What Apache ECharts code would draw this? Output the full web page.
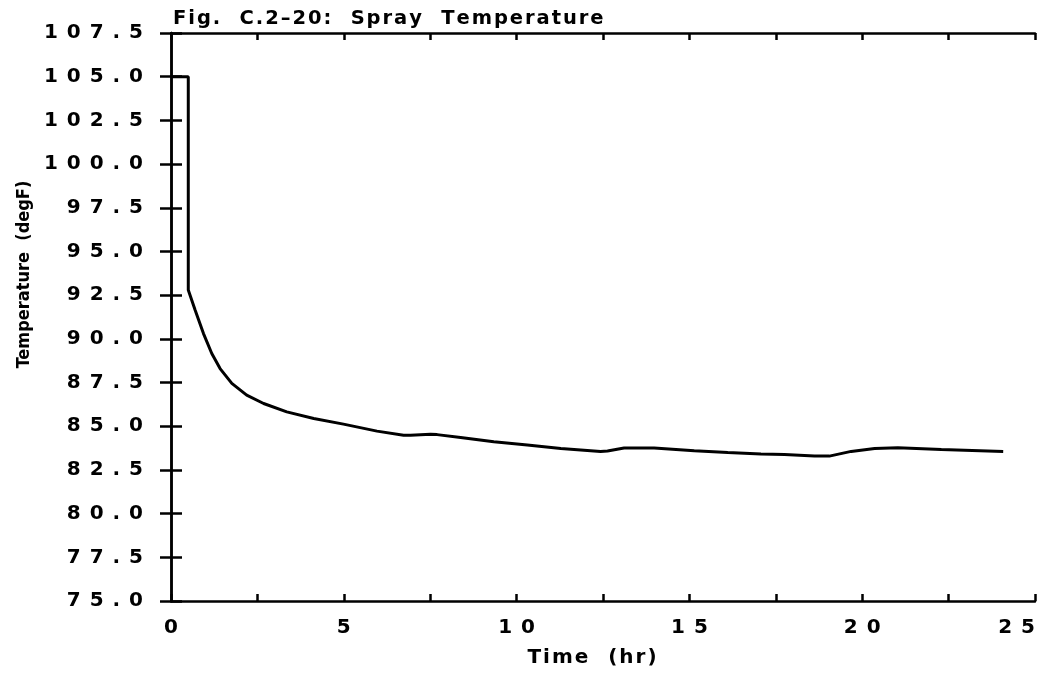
<!DOCTYPE html>
<html>
<head>
<meta charset="utf-8">
<script src="https://cdn.jsdelivr.net/npm/echarts@6/dist/echarts.min.js"></script>
<style>html,body{margin:0;padding:0;background:#fff}#c{width:1049px;height:685px}</style>
</head>
<body>
<div id="c"></div>
<script>
// Data
var titleText = 'Fig.  C.2\u201320:  Spray  Temperature';
var xName = 'Time  (hr)';
var yName = 'Temperature  (degF)';
var timeHr = [0, 0.5, 0.5, 0.7, 0.94, 1.18, 1.42, 1.76, 2.19, 2.68, 3.35, 4.13, 4.99, 5.96, 6.73, 6.93, 7.51, 7.7, 8.38, 9.34, 10.31, 11.28, 12.43, 12.63, 13.11, 13.98, 15.14, 16.11, 17.07, 17.75, 18.62, 19.05, 19.68, 20.36, 21.03, 22.29, 24.08];
var tempF = [105, 105, 92.8, 91.64, 90.3, 89.16, 88.3, 87.45, 86.78, 86.3, 85.82, 85.44, 85.12, 84.72, 84.49, 84.49, 84.54, 84.52, 84.36, 84.11, 83.92, 83.73, 83.56, 83.58, 83.75, 83.75, 83.6, 83.5, 83.41, 83.38, 83.29, 83.29, 83.56, 83.73, 83.77, 83.67, 83.56];
var xTicks = [0, 5, 10, 15, 20, 25];
var yTicks = [75.0, 77.5, 80.0, 82.5, 85.0, 87.5, 90.0, 92.5, 95.0, 97.5, 100.0, 102.5, 105.0, 107.5];

var points = timeHr.map(function (t, i) { return [t, tempF[i]]; });
function spaced(s) { return s.split('').join(' \u200A'); }
function airy(s) { return s.split('').join('\u200A'); }
var FONT = 'DejaVu Sans';
var chart = echarts.init(document.getElementById('c'), null, {renderer: 'canvas'});
var axisLine = {show: true, lineStyle: {color: '#000', width: 2.5}};
chart.setOption({
  animation: false,
  backgroundColor: '#fff',
  title: {
    text: airy(titleText), left: 168, top: 4,
    textStyle: {fontFamily: FONT, fontSize: 19.5, fontWeight: 'bold', color: '#000'}
  },
  grid: {left: 171, right: 14, top: 33, bottom: 84, containLabel: false},
  xAxis: [{
    type: 'value', position: 'bottom', min: 0, max: 25, interval: 2.5,
    name: airy(xName), nameLocation: 'middle', nameGap: 47,
    nameTextStyle: {fontFamily: FONT, fontSize: 20, fontWeight: 'bold', color: '#000', padding: [0, 22, 0, 0]},
    axisLine: axisLine,
    axisTick: {show: true, inside: true, length: 7, lineStyle: {color: '#000', width: 2.5}},
    axisLabel: {
      margin: 17, fontFamily: FONT, fontSize: 20, fontWeight: 'bold', color: '#000',
      alignMaxLabel: 'right',
      formatter: function (v) { return xTicks.indexOf(v) >= 0 ? spaced(String(v)) : ''; }
    },
    splitLine: {show: false}
  }, {
    type: 'value', position: 'top', min: 0, max: 25, interval: 2.5,
    axisLine: axisLine,
    axisTick: {show: true, inside: true, length: 7, lineStyle: {color: '#000', width: 2.5}},
    axisLabel: {show: false}, splitLine: {show: false}
  }],
  yAxis: [{
    type: 'value', position: 'left', min: 75, max: 107.5, interval: 2.5,
    name: yName, nameLocation: 'middle', nameGap: 135, nameRotate: 90,
    nameTextStyle: {fontFamily: '"DejaVu Sans Condensed", "DejaVu Sans"', fontSize: 18, fontWeight: 'bold', color: '#000', padding: [0, 0, 0, 85]},
    axisLine: axisLine,
    axisTick: {show: true, inside: true, length: 11, lineStyle: {color: '#000', width: 2.5}},
    axisLabel: {
      margin: 28, fontFamily: FONT, fontSize: 20, fontWeight: 'bold', color: '#000',
      formatter: function (v) { return spaced(v.toFixed(1)); }
    },
    splitLine: {show: false}
  }, {
    type: 'value', position: 'right', min: 75, max: 107.5, interval: 2.5,
    axisLine: axisLine,
    axisTick: {show: true, inside: true, length: 11, lineStyle: {color: '#000', width: 2.5}},
    axisLabel: {show: false}, splitLine: {show: false}
  }],
  series: [{
    type: 'line', xAxisIndex: 0, yAxisIndex: 0, data: points,
    showSymbol: false, smooth: false,
    lineStyle: {color: '#000', width: 3}
  }]
});
</script>
</body>
</html>
